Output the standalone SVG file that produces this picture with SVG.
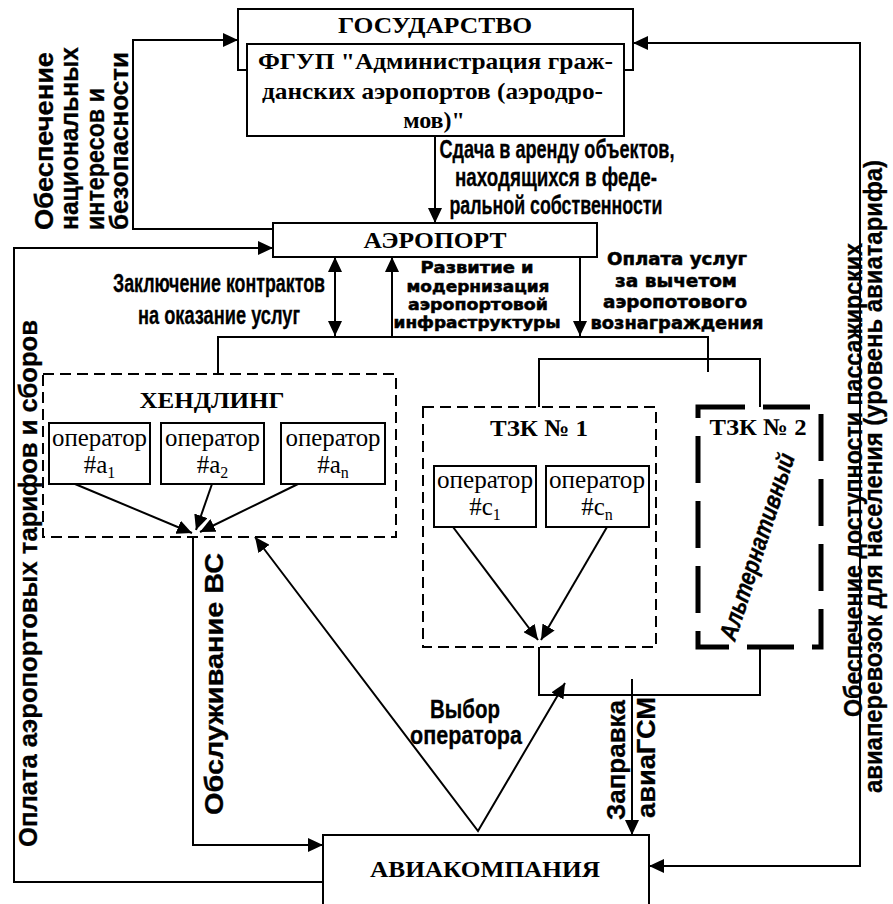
<svg xmlns="http://www.w3.org/2000/svg" width="893" height="904" viewBox="0 0 893 904">
<style>
.bx{fill:#fff;stroke:#000;stroke-width:2}
.dash{fill:none;stroke:#000;stroke-width:2;stroke-dasharray:11 6}
.dash2{fill:none;stroke:#000;stroke-width:5;stroke-dasharray:47 18}
.ln{fill:none;stroke:#000;stroke-width:2}
.ttl{font-family:"Liberation Serif",serif;font-weight:bold;font-size:24px;fill:#000}
.op{font-family:"Liberation Serif","DejaVu Serif",serif;font-size:25px;fill:#000}
.sub{font-size:16px}
.lbl{font-family:"Liberation Sans",Arial,sans-serif;font-weight:bold;font-size:25px;fill:#000;stroke:#000;stroke-width:0.3}
.wd{font-family:"DejaVu Sans",sans-serif;font-weight:bold;font-size:15px;fill:#000;stroke:#000;stroke-width:0.5}
.wd2{font-family:"DejaVu Sans",sans-serif;font-weight:bold;font-size:17px;fill:#000;stroke:#000;stroke-width:0.5}
</style>
<defs>
<marker id="ah" viewBox="0 0 15 14" refX="15" refY="7" markerWidth="15" markerHeight="14" markerUnits="userSpaceOnUse" orient="auto-start-reverse"><path d="M0,0 L15,7 L0,14 z" fill="#000"/></marker>
</defs>
<g id="connectors">
<path class="ln" d="M273,229 H133 V40 H238" marker-end="url(#ah)"/>
<path class="ln" d="M323,882 H14 V248 H273" marker-end="url(#ah)"/>
<path class="ln" d="M633,43 H860 V866 H649" marker-start="url(#ah)" marker-end="url(#ah)"/>
<path class="ln" d="M435,136 V223" marker-end="url(#ah)"/>
<path class="ln" d="M335,257 V336" marker-start="url(#ah)" marker-end="url(#ah)"/>
<path class="ln" d="M392,337 V257" marker-end="url(#ah)"/>
<path class="ln" d="M580,257 V336" marker-end="url(#ah)"/>
<path class="ln" d="M218,374 V337 H708 V372"/>
<path class="ln" d="M539,407 V359 H760 V407"/>
<path class="ln" d="M75,484 L192,533" marker-end="url(#ah)"/>
<path class="ln" d="M212,484 L196,530" marker-end="url(#ah)"/>
<path class="ln" d="M298,484 L200,532" marker-end="url(#ah)"/>
<path class="ln" d="M193,537 V845 H323" marker-end="url(#ah)"/>
<path class="ln" d="M255,537 L478,831 L565,683" marker-start="url(#ah)" marker-end="url(#ah)"/>
<path class="ln" d="M453,527 L538,640" marker-end="url(#ah)"/>
<path class="ln" d="M607,527 L541,640" marker-end="url(#ah)"/>
<path class="ln" d="M539,647 V695 H760 V648"/>
<path class="ln" d="M632,679 V835" marker-end="url(#ah)"/>
</g>
<g id="gosudarstvo">
<rect class="bx" x="238" y="9" width="395" height="61"/>
<text class="ttl" x="435" y="33" text-anchor="middle" textLength="194" lengthAdjust="spacingAndGlyphs">ГОСУДАРСТВО</text>
</g>
<g id="fgup">
<rect class="bx" x="247" y="44" width="377" height="92"/>
<text class="ttl" x="258" y="69" textLength="355" lengthAdjust="spacingAndGlyphs">ФГУП "Администрация граж-</text>
<text class="ttl" x="262" y="99" textLength="341" lengthAdjust="spacingAndGlyphs">данских аэропортов (аэродро-</text>
<text class="ttl" x="434" y="128" text-anchor="middle">мов)"</text>
</g>
<g id="aeroport">
<rect class="bx" x="273" y="223" width="324" height="34"/>
<text class="ttl" x="435" y="248" text-anchor="middle" textLength="143" lengthAdjust="spacingAndGlyphs">АЭРОПОРТ</text>
</g>
<g id="aviakompaniya">
<rect class="bx" x="323" y="835" width="326" height="80"/>
<text class="ttl" x="485" y="877" text-anchor="middle" textLength="230" lengthAdjust="spacingAndGlyphs">АВИАКОМПАНИЯ</text>
</g>
<g id="handling">
<rect class="dash" x="43" y="374" width="353" height="163"/>
<text class="ttl" x="212" y="408" text-anchor="middle" textLength="145" lengthAdjust="spacingAndGlyphs">ХЕНДЛИНГ</text>
</g>
<g id="op-a1">
<rect class="bx" x="49" y="423" width="101" height="61"/>
<text class="op" x="99.5" y="446" text-anchor="middle" textLength="95" lengthAdjust="spacingAndGlyphs">оператор</text>
<text class="op" x="99.5" y="473" text-anchor="middle">#a<tspan class="sub" dy="5">1</tspan></text>
</g>
<g id="op-a2">
<rect class="bx" x="161" y="423" width="103" height="61"/>
<text class="op" x="212.5" y="446" text-anchor="middle" textLength="95" lengthAdjust="spacingAndGlyphs">оператор</text>
<text class="op" x="212.5" y="473" text-anchor="middle">#a<tspan class="sub" dy="5">2</tspan></text>
</g>
<g id="op-an">
<rect class="bx" x="281" y="423" width="104" height="61"/>
<text class="op" x="333" y="446" text-anchor="middle" textLength="95" lengthAdjust="spacingAndGlyphs">оператор</text>
<text class="op" x="333" y="473" text-anchor="middle">#a<tspan class="sub" dy="5">n</tspan></text>
</g>
<g id="tzk1">
<rect class="dash" x="423" y="407" width="233" height="240"/>
<text class="ttl" x="539" y="436" text-anchor="middle" textLength="98" lengthAdjust="spacingAndGlyphs">ТЗК № 1</text>
</g>
<g id="op-c1">
<rect class="bx" x="434" y="466" width="102" height="61"/>
<text class="op" x="485" y="488" text-anchor="middle" textLength="96" lengthAdjust="spacingAndGlyphs">оператор</text>
<text class="op" x="485" y="515" text-anchor="middle">#c<tspan class="sub" dy="5">1</tspan></text>
</g>
<g id="op-cn">
<rect class="bx" x="546" y="466" width="103" height="61"/>
<text class="op" x="597" y="488" text-anchor="middle" textLength="96" lengthAdjust="spacingAndGlyphs">оператор</text>
<text class="op" x="597" y="515" text-anchor="middle">#c<tspan class="sub" dy="5">n</tspan></text>
</g>
<g id="tzk2">
<rect class="dash2" x="698" y="407" width="123" height="240"/>
<text class="ttl" x="758" y="435" text-anchor="middle" textLength="97" lengthAdjust="spacingAndGlyphs">ТЗК № 2</text>
<text class="lbl" font-size="27" font-style="italic" transform="translate(735,642) rotate(-72)" textLength="195" lengthAdjust="spacingAndGlyphs">Альтернативный</text>
</g>
<g id="labels">
<text class="lbl" x="557" y="158" text-anchor="middle" textLength="235" lengthAdjust="spacingAndGlyphs">Сдача в аренду объектов,</text>
<text class="lbl" x="556" y="186" text-anchor="middle" textLength="202" lengthAdjust="spacingAndGlyphs">находящихся в феде-</text>
<text class="lbl" x="556" y="214" text-anchor="middle" textLength="213" lengthAdjust="spacingAndGlyphs">ральной собственности</text>
<text class="lbl" x="219" y="292" text-anchor="middle" textLength="212" lengthAdjust="spacingAndGlyphs">Заключение контрактов</text>
<text class="lbl" x="219" y="324" text-anchor="middle" textLength="162" lengthAdjust="spacingAndGlyphs">на оказание услуг</text>
<text class="wd" x="477" y="273" text-anchor="middle" textLength="113" lengthAdjust="spacingAndGlyphs">Развитие и</text>
<text class="wd" x="478" y="292" text-anchor="middle" textLength="143" lengthAdjust="spacingAndGlyphs">модернизация</text>
<text class="wd" x="478" y="310" text-anchor="middle" textLength="140" lengthAdjust="spacingAndGlyphs">аэропортовой</text>
<text class="wd" x="477" y="328" text-anchor="middle" textLength="167" lengthAdjust="spacingAndGlyphs">инфраструктуры</text>
<text class="wd2" x="677" y="265" text-anchor="middle" textLength="140" lengthAdjust="spacingAndGlyphs">Оплата услуг</text>
<text class="wd2" x="676" y="287" text-anchor="middle" textLength="122" lengthAdjust="spacingAndGlyphs">за вычетом</text>
<text class="wd2" x="675" y="308" text-anchor="middle" textLength="144" lengthAdjust="spacingAndGlyphs">аэропотового</text>
<text class="wd2" x="677" y="329" text-anchor="middle" textLength="173" lengthAdjust="spacingAndGlyphs">вознаграждения</text>
<text class="lbl" font-size="22" x="465" y="718" text-anchor="middle" textLength="70" lengthAdjust="spacingAndGlyphs">Выбор</text>
<text class="lbl" font-size="22" x="466" y="744" text-anchor="middle" textLength="112" lengthAdjust="spacingAndGlyphs">оператора</text>
<text class="lbl" font-size="28" transform="translate(53,230) rotate(-90)" textLength="178" lengthAdjust="spacingAndGlyphs">Обеспечение</text>
<text class="lbl" font-size="28" transform="translate(78,230) rotate(-90)" textLength="183" lengthAdjust="spacingAndGlyphs">национальных</text>
<text class="lbl" font-size="28" transform="translate(104,230) rotate(-90)" textLength="142" lengthAdjust="spacingAndGlyphs">интересов и</text>
<text class="lbl" font-size="28" transform="translate(128,230) rotate(-90)" textLength="178" lengthAdjust="spacingAndGlyphs">безопасности</text>
<text class="lbl" font-size="28" transform="translate(37,847) rotate(-90)" textLength="527" lengthAdjust="spacingAndGlyphs">Оплата аэропортовых тарифов и сборов</text>
<text class="lbl" font-size="30" transform="translate(223,815) rotate(-90)" textLength="262" lengthAdjust="spacingAndGlyphs">Обслуживание ВС</text>
<text class="lbl" font-size="24" transform="translate(625,820) rotate(-90)" textLength="120" lengthAdjust="spacingAndGlyphs">Заправка</text>
<text class="lbl" font-size="24" transform="translate(655,818) rotate(-90)" textLength="121" lengthAdjust="spacingAndGlyphs">авиаГСМ</text>
<text class="lbl" font-size="21" transform="translate(862,717) rotate(-90)" textLength="474" lengthAdjust="spacingAndGlyphs">Обеспечение доступности пассажирских</text>
<text class="lbl" font-size="21" transform="translate(882,793) rotate(-90)" textLength="633" lengthAdjust="spacingAndGlyphs">авиаперевозок для населения (уровень авиатарифа)</text>
</g>
</svg>
